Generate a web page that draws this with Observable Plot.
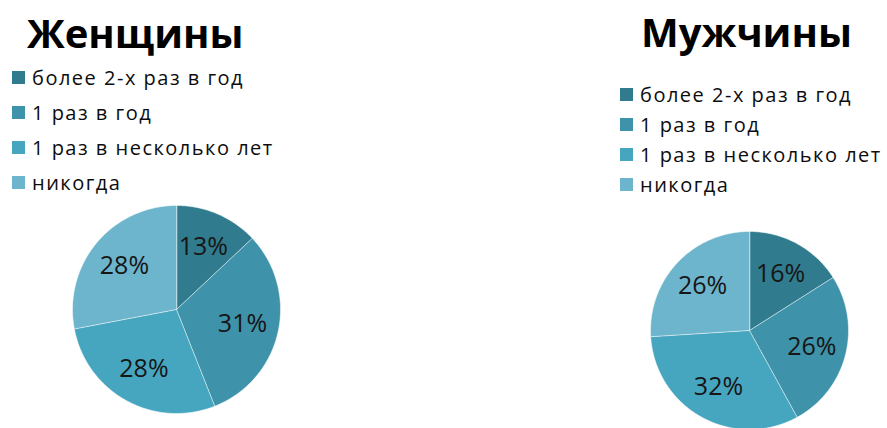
<!DOCTYPE html>
<html><head><meta charset="utf-8">
<script src="https://cdn.jsdelivr.net/npm/d3@7"></script>
<script src="https://cdn.jsdelivr.net/npm/@observablehq/plot@0.6"></script>
<style>
body{margin:0;background:#fff;}
#root{position:relative;width:887px;height:428px;overflow:hidden;font-family:"Open Sans",sans-serif;color:#000;}
.title{position:absolute;font-weight:700;font-size:40px;line-height:1;white-space:nowrap;}
.legend{position:absolute;}
.row{display:flex;align-items:center;font-size:20px;white-space:nowrap;letter-spacing:1.5px;color:#0d0d0d;}
.sw{width:13px;height:13px;margin-right:7px;flex:none;}
.pie{position:absolute;}
</style></head><body><div id="root"></div>
<script>
const categories = ["более 2-х раз в год", "1 раз в год", "1 раз в несколько лет", "никогда"];
const sliceColors = ["#317B8E", "#3E92A9", "#47A6BF", "#6DB5CC"];
const womenValues = [13, 31, 28, 28];
const menValues = [16, 26, 32, 26];
const titles = ["Женщины", "Мужчины"];

function pieChart(values, size) {
  const arcs = d3.pie().sort(null)(values);
  const data = arcs.map((a, i) => {
    const n = Math.max(2, Math.ceil((a.endAngle - a.startAngle) / 0.02));
    const ring = [[0, 0]];
    for (let k = 0; k <= n; k++) {
      const t = a.startAngle + (a.endAngle - a.startAngle) * k / n;
      ring.push([Math.sin(t), Math.cos(t)]);
    }
    ring.push([0, 0]);
    const mid = (a.startAngle + a.endAngle) / 2;
    return {
      category: categories[i],
      label: values[i] + "%",
      geometry: {type: "Polygon", coordinates: [ring]},
      lx: 0.65 * Math.sin(mid),
      ly: 0.65 * Math.cos(mid)
    };
  });
  return Plot.plot({
    width: size, height: size, margin: 0,
    style: {fontFamily: "Open Sans", background: "transparent", overflow: "visible"},
    projection: {type: "reflect-y", domain: {type: "MultiPoint", coordinates: [[-1, -1], [1, 1]]}},
    color: {domain: categories, range: sliceColors},
    marks: [
      Plot.geo(data, {geometry: d => d.geometry, fill: d => d.category, stroke: "white", strokeOpacity: 0.5, strokeWidth: 1}),
      Plot.text(data, {x: "lx", y: "ly", text: "label", fontSize: 25, fill: "#161616"})
    ]
  });
}

function legend(left, top, rowH) {
  const div = document.createElement("div");
  div.className = "legend";
  div.style.left = left + "px";
  div.style.top = top + "px";
  categories.forEach((c, i) => {
    const row = document.createElement("div");
    row.className = "row";
    row.style.height = rowH + "px";
    const sw = document.createElement("span");
    sw.className = "sw";
    sw.style.background = sliceColors[i];
    const tx = document.createElement("span");
    tx.textContent = c;
    row.append(sw, tx);
    div.append(row);
  });
  return div;
}

const root = document.getElementById("root");
function addTitle(text, left, top) {
  const t = document.createElement("div");
  t.className = "title";
  t.textContent = text;
  t.style.left = left + "px";
  t.style.top = top + "px";
  root.append(t);
}
addTitle(titles[0], 27, 13);
addTitle(titles[1], 641, 12);
root.append(legend(12, 60, 35));
root.append(legend(620, 79, 30));

const p1 = pieChart(womenValues, 208);
p1.classList.add("pie");
p1.style.left = "72px"; p1.style.top = "205px";
root.append(p1);
const p2 = pieChart(menValues, 198);
p2.classList.add("pie");
p2.style.left = "650px"; p2.style.top = "231px";
root.append(p2);
</script>
</body></html>
